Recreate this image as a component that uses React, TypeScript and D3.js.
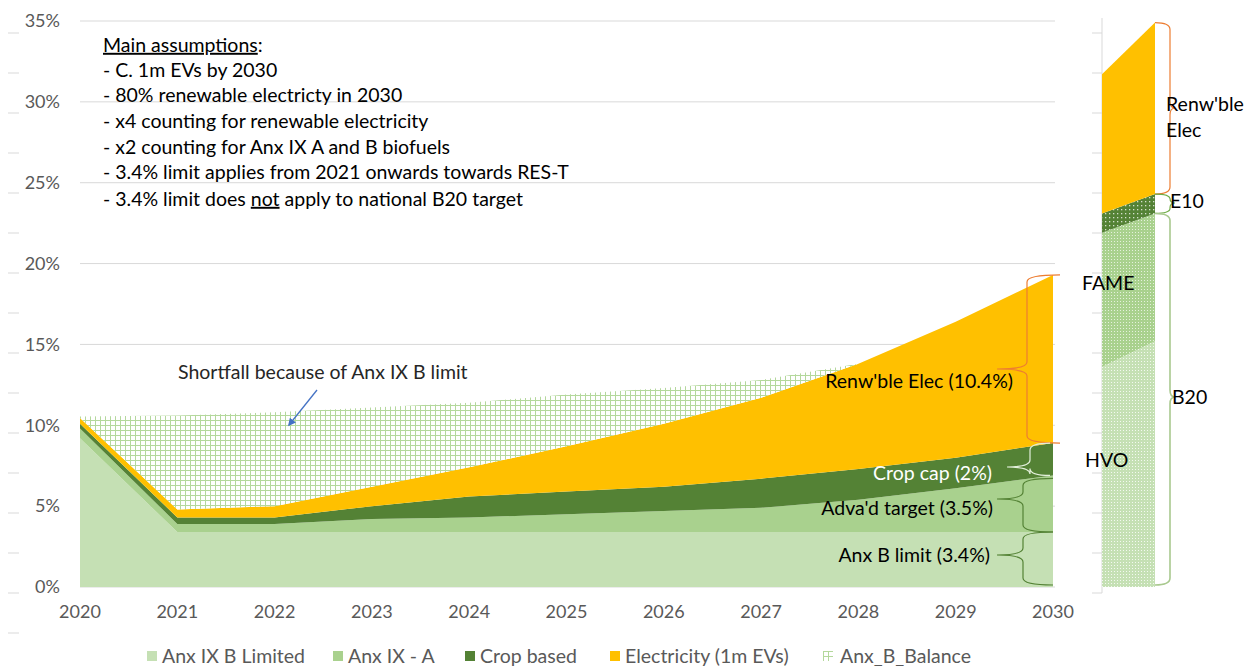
import React from "react";
import * as d3 from "d3";

// main chart data (% of transport energy)
const years = [2020, 2021, 2022, 2023, 2024, 2025, 2026, 2027, 2028, 2029, 2030];
const anxIXBLimited = [9.2, 3.4, 3.4, 3.4, 3.4, 3.4, 3.4, 3.4, 3.4, 3.4, 3.4];
const anxIXA = [0.6, 0.5, 0.5, 0.8, 0.9, 1.1, 1.3, 1.5, 2.0, 2.7, 3.5];
const cropBased = [0.3, 0.4, 0.4, 0.8, 1.3, 1.4, 1.5, 1.8, 1.9, 1.9, 2.0];
const electricity = [0.35, 0.5, 0.7, 1.2, 1.8, 2.8, 3.9, 5.0, 6.5, 8.4, 10.4];
const anxBBalance = [0.1, 5.8, 5.8, 4.9, 4.0, 3.2, 2.2, 1.1, 0, 0, 0];

const seriesKeys = ["anxB", "anxA", "crop", "elec", "bal"];
const seriesNames = ["Anx IX B Limited", "Anx IX - A", "Crop based", "Electricity (1m EVs)", "Anx_B_Balance"];
const seriesFills = ["#c5e0b4", "#a9d18e", "#548235", "#ffc000", "url(#gridHatch)"];

const yTicks = [0, 5, 10, 15, 20, 25, 30, 35];

// side bar (2030 split by product)
const barEdges = ["from", "to"];
const hvo = [13.6, 15.2];
const fame = [8.3, 7.9];
const e10 = [1.2, 1.2];
const renwElec = [8.6, 10.6];
const barKeys = ["hvo", "fame", "e10", "elec"];
const barFills = ["url(#dotsLight)", "url(#dotsMid)", "url(#dotsDark)", "#ffc000"];

// secondary axis tick marks (unlabelled)
const minorTicks = d3.range(0, 16);

const assumptions = [
  "- C. 1m EVs by 2030",
  "- 80% renewable electricty in 2030",
  "- x4 counting for renewable electricity",
  "- x2 counting for Anx IX A and B biofuels",
  "- 3.4% limit applies from 2021 onwards towards RES-T",
];

const font = "Lato, 'Open Sans', sans-serif";
const fs = 19.5;

// curly brace: tip points towards tipX, ends hook towards endX
function brace(x: number, y0: number, y1: number, tipX: number, tipY: number, endX: number) {
  const r = Math.min(7, (y1 - y0) / 4);
  return `M${endX},${y0} Q${x},${y0} ${x},${y0 + r} L${x},${tipY - r} Q${x},${tipY} ${tipX},${tipY} Q${x},${tipY} ${x},${tipY + r} L${x},${y1 - r} Q${x},${y1} ${endX},${y1}`;
}

export default function App() {
  const x = d3.scaleLinear().domain([2020, 2030]).range([80, 1053]);
  const y = d3.scaleLinear().domain([0, 35]).range([587, 21]);
  const minorY = d3.scaleLinear().domain([0, 15]).range([33, 633]);

  const rows = years.map((yr, i) => ({
    year: yr,
    anxB: anxIXBLimited[i],
    anxA: anxIXA[i],
    crop: cropBased[i],
    elec: electricity[i],
    bal: anxBBalance[i],
  }));
  const stacked = d3.stack<any>().keys(seriesKeys)(rows);
  const area = d3
    .area<any>()
    .x((d) => x(d.data.year))
    .y0((d) => y(d[0]))
    .y1((d) => y(d[1]));

  const bx = d3.scalePoint<string>().domain(barEdges).range([1102, 1155]);
  const barRows = barEdges.map((e, i) => ({ edge: e, hvo: hvo[i], fame: fame[i], e10: e10[i], elec: renwElec[i] }));
  const barStack = d3.stack<any>().keys(barKeys)(barRows);
  const barArea = d3
    .area<any>()
    .x((d) => bx(d.data.edge) as number)
    .y0((d) => y(d[0]))
    .y1((d) => y(d[1]));

  const last = stacked.map((s) => s[s.length - 1]);
  const xEnd = x(2030);
  const barTop = barStack.map((s) => s[s.length - 1]);
  const bxEnd = bx("to") as number;

  const legendX = [147, 333, 465, 610, 823];

  return (
    <svg width={1248} height={666} style={{ position: "absolute", left: 0, top: 0, fontFamily: font }}>
      <defs>
        <pattern id="gridHatch" width={5} height={5} patternUnits="userSpaceOnUse">
          <rect width={5} height={5} fill="#fff" />
          <path d="M0,0.5H5M0.5,0V5" stroke="#b4d89c" strokeWidth={1} />
        </pattern>
        <pattern id="dotsLight" width={3} height={3} patternUnits="userSpaceOnUse">
          <rect width={3} height={3} fill="#c5e0b4" />
          <rect x={1} y={1} width={1} height={1} fill="#fff" opacity={0.8} />
        </pattern>
        <pattern id="dotsMid" width={3} height={3} patternUnits="userSpaceOnUse">
          <rect width={3} height={3} fill="#a9d18e" />
          <rect x={1} y={1} width={1} height={1} fill="#fff" opacity={0.7} />
        </pattern>
        <pattern id="dotsDark" width={4} height={4} patternUnits="userSpaceOnUse">
          <rect width={4} height={4} fill="#548235" />
          <rect x={1} y={1} width={1.3} height={1.3} fill="#fff" opacity={0.75} />
        </pattern>
        <marker id="arrowHead" viewBox="0 0 10 10" refX={8} refY={5} markerWidth={6} markerHeight={6} orient="auto">
          <path d="M0,0 L10,5 L0,10 z" fill="#4472c4" />
        </marker>
      </defs>

      {/* gridlines */}
      {yTicks.map((t) => (
        <line key={t} x1={80} x2={1055} y1={y(t)} y2={y(t)} stroke="#d9d9d9" strokeWidth={1} />
      ))}

      {/* stacked areas */}
      {stacked.map((s, i) => (
        <path key={s.key} d={area(s) as string} fill={seriesFills[i]} />
      ))}

      {/* y labels */}
      {yTicks.map((t) => (
        <text key={t} x={60} y={y(t)} dy="0.35em" textAnchor="end" fontSize={18} fill="#595959">
          {t}%
        </text>
      ))}
      {/* x labels */}
      {years.map((yr) => (
        <text key={yr} x={x(yr)} y={612} dy="0.35em" textAnchor="middle" fontSize={18} fill="#595959">
          {yr}
        </text>
      ))}

      {/* unlabelled secondary tick marks */}
      {minorTicks.map((k) => (
        <line key={"l" + k} x1={8} x2={19} y1={minorY(k)} y2={minorY(k)} stroke="#d9d9d9" />
      ))}
      {minorTicks.filter((k) => k < 15).map((k) => (
        <line key={"r" + k} x1={1092} x2={1102} y1={minorY(k)} y2={minorY(k)} stroke="#d9d9d9" />
      ))}
      <line x1={1102} x2={1102} y1={18} y2={593} stroke="#d9d9d9" />

      {/* side bar */}
      {barStack.map((s, i) => (
        <path key={s.key} d={barArea(s) as string} fill={barFills[i]} />
      ))}

      {/* assumptions box */}
      <g fontSize={fs} fill="#000">
        <text x={103} y={45} dy="0.35em">
          <tspan textDecoration="underline">Main assumptions</tspan>:
        </text>
        {assumptions.map((a, i) => (
          <text key={i} x={103} y={70 + i * 25.6} dy="0.35em">
            {a}
          </text>
        ))}
        <text x={103} y={199} dy="0.35em">
          - 3.4% limit does <tspan textDecoration="underline">not</tspan> apply to national B20 target
        </text>
      </g>

      {/* shortfall annotation */}
      <text x={178} y={372} dy="0.35em" fontSize={fs} fill="#262626">
        Shortfall because of Anx IX B limit
      </text>
      <line x1={317} y1={390} x2={289} y2={425} stroke="#4472c4" strokeWidth={1.3} markerEnd="url(#arrowHead)" />

      {/* braces for 2030 components */}
      <path d={brace(1027, y(last[3][1]), y(last[3][0]), 997, 369, xEnd + 7)} fill="none" stroke="#ed7d31" strokeWidth={1.2} />
      <text x={1013} y={381} dy="0.35em" textAnchor="end" fontSize={fs} fill="#000">
        Renw'ble Elec (10.4%)
      </text>

      <path d={brace(1030, y(last[2][1]), y(last[2][0]), 1007, 467, xEnd - 3)} fill="none" stroke="#e2efda" strokeWidth={1.2} />
      <text x={992} y={473} dy="0.35em" textAnchor="end" fontSize={fs} fill="#fff">
        Crop cap (2%)
      </text>

      <path d={brace(1023, y(last[1][1]) + 3, y(last[1][0]), 997, 499, xEnd)} fill="none" stroke="#548235" strokeWidth={1.2} />
      <text x={993} y={508} dy="0.35em" textAnchor="end" fontSize={fs} fill="#000">
        Adva'd target (3.5%)
      </text>

      <path d={brace(1023, y(last[0][1]), y(0) - 2, 997, 555, xEnd)} fill="none" stroke="#548235" strokeWidth={1.2} />
      <text x={990} y={555} dy="0.35em" textAnchor="end" fontSize={fs} fill="#000">
        Anx B limit (3.4%)
      </text>

      {/* side bar braces */}
      <path d={brace(1170, y(barTop[3][1]), y(barTop[3][0]), 1175, 108, bxEnd)} fill="none" stroke="#ed7d31" strokeWidth={1.2} />
      <path d={brace(1170, y(barTop[2][1]), y(barTop[2][0]), 1175, 203, bxEnd)} fill="none" stroke="#70ad47" strokeWidth={1.2} />
      <path d={brace(1170, y(barTop[1][1]), y(0) - 2, 1175, 397, bxEnd)} fill="none" stroke="#a9c98f" strokeWidth={1.6} />
      <g fontSize={fs} fill="#000">
        <text x={1166} y={104} dy="0.35em">Renw'ble</text>
        <text x={1166} y={130} dy="0.35em">Elec</text>
        <text x={1170} y={201} dy="0.35em">E10</text>
        <text x={1172} y={397} dy="0.35em">B20</text>
        <text x={1082} y={283} dy="0.35em">FAME</text>
        <text x={1085} y={460} dy="0.35em">HVO</text>
      </g>

      {/* legend */}
      {seriesNames.map((n, i) => (
        <g key={n} transform={`translate(${legendX[i]},656)`}>
          <rect x={0} y={-5} width={10} height={10} fill={i === 4 ? "url(#gridHatch)" : seriesFills[i]} />
          <text x={i === 4 ? 17 : 15} y={0} dy="0.35em" fontSize={fs} fill="#595959">
            {n}
          </text>
        </g>
      ))}
    </svg>
  );
}
